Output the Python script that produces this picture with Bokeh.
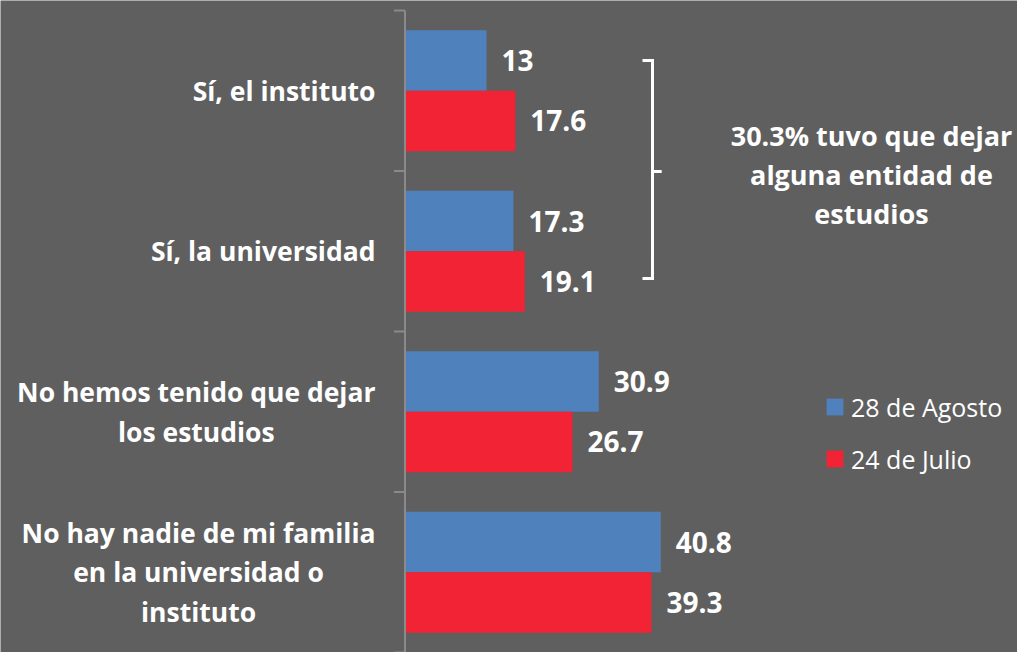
from bokeh.plotting import figure
from bokeh.models import Range1d, ColumnDataSource, Legend, LegendItem
from bokeh.transform import dodge
from bokeh.core.properties import value
from bokeh.embed import file_html
from bokeh.resources import INLINE

# ---- data ----
categories = [
    "Sí, el instituto",
    "Sí, la universidad",
    "No hemos tenido que dejar\nlos estudios",
    "No hay nadie de mi familia\nen la universidad o\ninstituto",
]
series = ["28 de Agosto", "24 de Julio"]
agosto = [13, 17.3, 30.9, 40.8]
julio = [17.6, 19.1, 26.7, 39.3]
note = "30.3% tuvo que dejar\nalguna entidad de\nestudios"

# ---- style ----
BG = "#5f5f5f"
COLORS = ["#4f81bd", "#f22334"]
AXIS_C = "#8a8a8a"
FONT = "Open Sans"
PX_PER_UNIT = 6.27
BAND = 160.5
W, H = 1017, 652
AX_X = 404.5

n = len(categories)
ypos = [n - i - 0.5 for i in range(n)]
src = ColumnDataSource(dict(
    y=ypos, cat=categories, agosto=agosto, julio=julio,
    agosto_txt=[f"{v:g}" for v in agosto], julio_txt=[f"{v:g}" for v in julio],
))

p = figure(width=W, height=H,
           x_range=Range1d(-AX_X / PX_PER_UNIT, (W - AX_X) / PX_PER_UNIT),
           y_range=Range1d(n - (H - 10) / BAND, n + 10 / BAND),
           x_axis_type=None, y_axis_type=None,
           output_backend="svg", toolbar_location=None, min_border=0,
           background_fill_color=BG, border_fill_color=BG, outline_line_color=None)
p.grid.visible = False

off = 0.188
h = 0.377
r1 = p.hbar(y=dodge("y", off), left=0, right="agosto", height=h, source=src,
            fill_color=COLORS[0], line_color=None)
r2 = p.hbar(y=dodge("y", -off), left=0, right="julio", height=h, source=src,
            fill_color=COLORS[1], line_color=None)

lbl = dict(text_color="white", text_font=value(FONT), text_font_style="bold",
           text_font_size="28px", text_align="left", text_baseline="middle", x_offset=15)
p.text(x="agosto", y=dodge("y", off), text="agosto_txt", source=src, **lbl)
p.text(x="julio", y=dodge("y", -off), text="julio_txt", source=src, **lbl)

# axis line and category boundary ticks
bounds = list(range(n + 1))
p.segment(x0=0, y0=-1, x1=0, y1=n, line_color=AXIS_C, line_width=2)
p.segment(x0=[-11 / PX_PER_UNIT] * len(bounds), y0=bounds, x1=[0] * len(bounds), y1=bounds,
          line_color=AXIS_C, line_width=2)

# category labels
p.text(x=-29.5 / PX_PER_UNIT, y="y", text="cat", source=src,
       anchor=value("center_right"), text_align="center", text_baseline="middle",
       text_color="white", text_font=value(FONT), text_font_style="bold",
       text_font_size="26.5px", text_line_height=1.1)

# bracket
bx, bl, br = 39.47, 37.88, 40.94
yt, yb, ym = 3.6885, 2.330, 2.997
p.multi_line(xs=[[bl, bx, bx, bl], [bx, br]], ys=[[yt, yt, yb, yb], [ym, ym]],
             line_color="white", line_width=3, line_join="miter")
p.text(x=[74.4], y=[2.979], text=[note], text_align="center", text_baseline="middle",
       text_color="white", text_font=value(FONT), text_font_style="bold",
       text_font_size="27px", text_line_height=1.06)

legend = Legend(items=[LegendItem(label=series[0], renderers=[r1]),
                       LegendItem(label=series[1], renderers=[r2])],
                location=(824, 176.5), orientation="vertical",
                background_fill_alpha=0, border_line_color=None,
                padding=0, margin=0, spacing=18,
                glyph_width=21, glyph_height=21, label_height=21, label_standoff=6,
                label_text_color="white", label_text_font=FONT, label_text_font_size="25px")
p.add_layout(legend)

html = file_html(p, INLINE)
open("out.html", "w").write(html)
